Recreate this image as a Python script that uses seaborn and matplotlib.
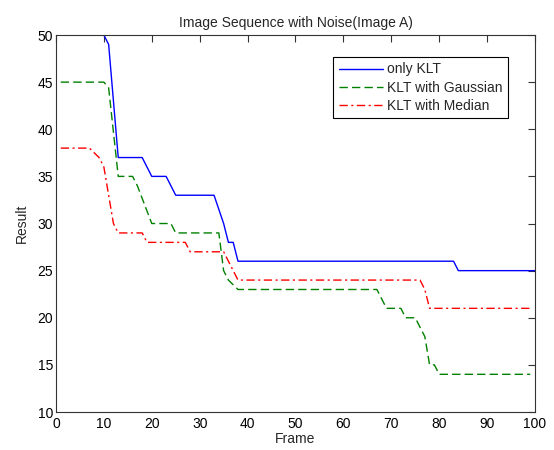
import pandas as pd
import matplotlib
matplotlib.use('Agg')
import matplotlib.pyplot as plt
import seaborn as sns

# Step vertices (frame, result)
klt_frames = [10, 11, 13, 18, 20, 23, 25, 33, 34, 35, 36, 37, 38, 83, 84, 100]
klt_values = [50, 49, 37, 37, 35, 35, 33, 33, 31.5, 30, 28, 28, 26, 26, 25, 25]

gauss_frames = [1, 10, 11, 13, 16, 17, 20, 24, 25, 34, 35, 36, 38, 67, 69, 72, 73, 75, 76, 77, 78, 79, 80, 99]
gauss_values = [45, 45, 44.4, 35, 35, 34, 30, 30, 29, 29, 25, 24, 23, 23, 21, 21, 20, 20, 19, 18, 15, 15, 14, 14]

median_frames = [1, 7, 9, 10, 11, 12, 13, 18, 19, 27, 28, 35, 36, 38, 76, 77, 78, 99]
median_values = [38, 38, 37, 36, 33, 30, 29, 29, 28, 28, 27, 27, 26, 24, 24, 23, 21, 21]

labels = ['only KLT', 'KLT with Gaussian', 'KLT with Median']

df = pd.concat([
    pd.DataFrame({'Frame': klt_frames, 'Result': klt_values, 'Method': labels[0]}),
    pd.DataFrame({'Frame': gauss_frames, 'Result': gauss_values, 'Method': labels[1]}),
    pd.DataFrame({'Frame': median_frames, 'Result': median_values, 'Method': labels[2]}),
], ignore_index=True)

sns.set_style('white')
plt.rcParams['font.family'] = ['Liberation Sans', 'DejaVu Sans']

fig = plt.figure(figsize=(5.54, 4.5), dpi=100)
ax = fig.add_axes([0.101, 0.0844, 0.8647, 0.8378])

palette = {labels[0]: '#0000ff', labels[1]: '#008000', labels[2]: '#ff0000'}
dashes = {labels[0]: '', labels[1]: (6, 3), labels[2]: (6, 2.5, 1.5, 2.5)}
sns.lineplot(data=df, x='Frame', y='Result', hue='Method', style='Method',
             palette=palette, dashes=dashes, sort=False, estimator=None,
             linewidth=1, ax=ax)

ax.set_xlim(0, 100)
ax.set_ylim(10, 50)
ax.set_xticks(range(0, 101, 10))
ax.set_yticks(range(10, 51, 5))
ax.tick_params(direction='in', top=True, right=True, length=5, width=0.8,
               labelsize=10, colors='#333333', labelcolor='black')
ax.tick_params(axis='y', pad=2)
for sp in ax.spines.values():
    sp.set_color('#333333')
    sp.set_linewidth(0.8)

ax.set_title('Image Sequence with Noise(Image A)', fontsize=10, pad=6)
ax.set_xlabel('Frame', fontsize=10, labelpad=1)
ax.set_ylabel('Result', fontsize=10, labelpad=6)

leg = ax.legend(loc='upper right', bbox_to_anchor=(0.944, 0.942), borderaxespad=0,
                fancybox=False, framealpha=1, edgecolor='black', fontsize=10,
                handlelength=3.2, handletextpad=0.3, labelspacing=0.3,
                borderpad=0.4)
leg.get_frame().set_linewidth(0.8)

fig.savefig('out.png', dpi=100)
